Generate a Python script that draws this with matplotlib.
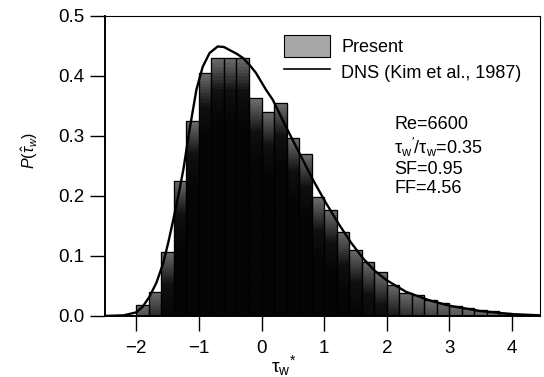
import matplotlib
matplotlib.use('Agg')
import matplotlib.pyplot as plt
import numpy as np
from matplotlib.colors import LinearSegmentedColormap
from matplotlib.patches import Patch
from matplotlib.lines import Line2D

plt.rcParams['font.family'] = ['Liberation Sans', 'DejaVu Sans']
plt.rcParams['mathtext.fontset'] = 'custom'
plt.rcParams['mathtext.rm'] = 'Liberation Sans'
plt.rcParams['mathtext.it'] = 'Liberation Sans:italic'

# histogram of present simulation (bin left edges, width 0.2)
bin_left = np.arange(-2.0, 4.0, 0.2)
bin_height = [0.018, 0.040, 0.107, 0.225, 0.325, 0.405, 0.430, 0.430, 0.430, 0.363,
              0.340, 0.355, 0.297, 0.270, 0.198, 0.177, 0.140, 0.110, 0.090, 0.073,
              0.052, 0.038, 0.035, 0.026, 0.021, 0.016, 0.013, 0.010, 0.008, 0.005]

# DNS curve (Kim et al., 1987)
dns_x = [-2.5, -2.2, -2.0, -1.9, -1.79, -1.68, -1.57, -1.49, -1.41, -1.33, -1.25, -1.15,
         -1.04, -0.94, -0.83, -0.70, -0.60, -0.51, -0.40, -0.30, -0.19, -0.09, 0.07, 0.18,
         0.39, 0.61, 0.82, 1.03, 1.24, 1.43, 1.62, 1.80, 1.99, 2.31, 2.68, 3.0, 3.5, 4.0, 4.45]
dns_y = [0.0, 0.001, 0.006, 0.015, 0.032, 0.055, 0.088, 0.122, 0.160, 0.200, 0.243, 0.310,
         0.377, 0.415, 0.438, 0.449, 0.448, 0.443, 0.437, 0.430, 0.418, 0.405, 0.377, 0.360,
         0.315, 0.270, 0.227, 0.188, 0.152, 0.122, 0.096, 0.076, 0.060, 0.040, 0.026, 0.017,
         0.008, 0.003, 0.001]

fig = plt.figure(figsize=(5.44, 3.77), dpi=100)
ax = fig.add_axes([0.193, 0.162, 0.800, 0.796])

bars = ax.bar(bin_left, bin_height, width=0.2, align='edge',
              facecolor='#111111', edgecolor='black', linewidth=0.8, zorder=2)

# gray at the top of each bar fading into black
cmap = LinearSegmentedColormap.from_list('g', ['#050505', '#101010', '#6e6e6e'])
for rect in bars:
    x0 = rect.get_x()
    h = rect.get_height()
    yy = np.linspace(0, h, 80)
    v = np.clip(1 - (h - yy) / 0.11, 0, 1)
    im = ax.imshow(v[:, None], extent=[x0, x0 + 0.2, 0, h], origin='lower',
                   aspect='auto', cmap=cmap, vmin=0, vmax=1, zorder=2.5)
    im.set_clip_path(rect)
    ax.add_patch(plt.Rectangle((x0, 0), 0.2, h, fill=False, edgecolor='black',
                               linewidth=0.9, zorder=2.6))

ax.plot(dns_x, dns_y, color='black', linewidth=1.7, zorder=3)

ax.set_xlim(-2.5, 4.45)
ax.set_ylim(0, 0.5)
ax.set_xticks([-2, -1, 0, 1, 2, 3, 4])
ax.set_yticks([0.0, 0.1, 0.2, 0.3, 0.4, 0.5])
ax.set_yticklabels(['0.0', '0.1', '0.2', '0.3', '0.4', '0.5'])
ax.tick_params(direction='out', length=11, width=1.0, labelsize=13.5, pad=4)
ax.tick_params(axis='x', pad=6)

for s in ['left', 'bottom']:
    ax.spines[s].set_linewidth(1.4)
for s in ['top', 'right']:
    ax.spines[s].set_linewidth(0.8)

ax.set_xlabel(r'τ$_{\rm w}$$^{*}$', fontsize=14, labelpad=0)
ax.xaxis.set_label_coords(0.41, -0.125)
ax.set_ylabel(r'$P(\hat{\tau}_{w})$', fontsize=11.5)
ax.yaxis.set_label_coords(-0.15, 0.55)

handles = [Patch(facecolor='#a8a8a8', edgecolor='black', linewidth=0.8),
           Line2D([], [], color='black', linewidth=1.2)]
ax.legend(handles, ['Present', 'DNS (Kim et al., 1987)'], loc='upper left',
          bbox_to_anchor=(0.375, 0.99), frameon=False, fontsize=13,
          handlelength=2.5, handleheight=1.5, handletextpad=0.65, labelspacing=0.2)

ax.text(0.665, 0.665,
        'Re=6600\nτ$_{\\rm w}$$^{\\prime}$/τ$_{\\rm w}$=0.35\nSF=0.95\nFF=4.56',
        transform=ax.transAxes, fontsize=13, va='top', ha='left', linespacing=1.15)

fig.savefig('out.png', dpi=100)
